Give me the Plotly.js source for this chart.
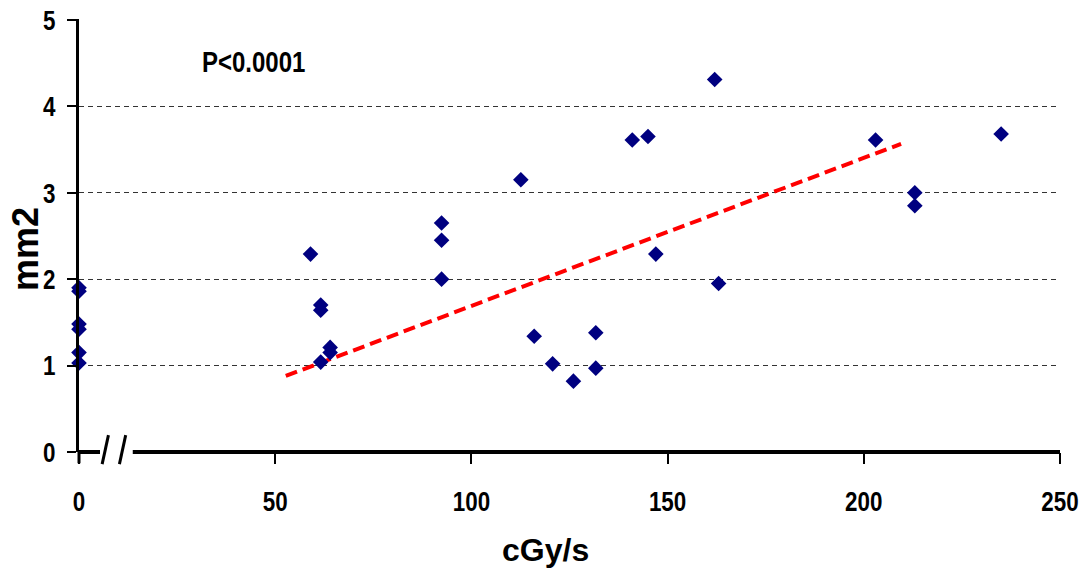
<!DOCTYPE html>
<html>
<head>
<meta charset="utf-8">
<script src="https://cdn.plot.ly/plotly-3.0.1.min.js"></script>
<style>html,body{margin:0;padding:0;background:#fff;}#chart{width:1088px;height:574px;}</style>
</head>
<body>
<div id="chart"></div>
<script>
// Data
var doseRate = [0, 0, 0, 0, 0, 0,
  59, 61.6, 61.6, 61.6, 64, 64,
  92.4, 92.4, 92.4, 112.6, 116, 120.7, 126, 131.7, 131.7,
  141, 145, 147, 162, 163, 203, 213, 213, 235];
var area = [1.9, 1.86, 1.48, 1.42, 1.15, 1.03,
  2.29, 1.70, 1.64, 1.04, 1.21, 1.15,
  2.65, 2.45, 2.0, 3.15, 1.34, 1.02, 0.82, 1.38, 0.97,
  3.61, 3.65, 2.29, 4.31, 1.95, 3.61, 3.0, 2.85, 3.68];
var trendX = [52.7, 209.5];
var trendY = [0.88, 3.565];
var xTicks = [0, 50, 100, 150, 200, 250];
var yTicks = [0, 1, 2, 3, 4, 5];
var annotationText = "P<0.0001";
var xTitle = "cGy/s";
var yTitle = "mm2";

var font = "Liberation Sans, Arial, sans-serif";
var XMAX = 250, YMAX = 5;
// axis break (paper fractions of the x axis)
var breakStart = 5.35 / XMAX, breakEnd = 13.7 / XMAX;

var traces = [
  {
    x: trendX, y: trendY, type: "scatter", mode: "lines",
    line: {color: "#ff0000", width: 4, dash: "12px,6px"},
    hoverinfo: "skip", cliponaxis: false
  },
  {
    x: doseRate, y: area, type: "scatter", mode: "markers",
    marker: {symbol: "diamond", size: 12, color: "#000080"},
    cliponaxis: false
  }
];

var layout = {
  width: 1088, height: 574,
  margin: {l: 79, r: 28, t: 19, b: 122},
  paper_bgcolor: "#fff", plot_bgcolor: "#fff",
  showlegend: false,
  xaxis: {
    range: [0, XMAX], tickvals: xTicks, ticktext: xTicks.map(String),
    showline: false, zeroline: false, showgrid: false,
    ticks: "outside", ticklen: 11, tickwidth: 2, tickcolor: "#000",
    ticklabelstandoff: 13,
    tickfont: {family: font, size: 28, color: "#000", weight: "bold"}
  },
  yaxis: {
    range: [0, YMAX + 0.01], tickvals: yTicks, ticktext: yTicks.map(String),
    showline: true, linewidth: 3, linecolor: "#000",
    zeroline: false, showgrid: true, gridcolor: "#333", gridwidth: 1, griddash: "5px,4px",
    ticks: "outside", ticklen: 9, tickwidth: 2, tickcolor: "#000",
    ticklabelstandoff: 6,
    tickfont: {family: font, size: 28, color: "#000", weight: "bold"}
  },
  shapes: [
    {type: "line", xref: "paper", yref: "paper", x0: 0, x1: breakStart, y0: 0, y1: 0, line: {color: "#000", width: 4}},
    {type: "line", xref: "paper", yref: "paper", x0: breakEnd, x1: 1, y0: 0, y1: 0, line: {color: "#000", width: 4}},
    {type: "line", xref: "paper", yref: "paper", x0: 5.9 / XMAX, x1: 7.5 / XMAX, y0: -0.028, y1: 0.039, line: {color: "#000", width: 3}},
    {type: "line", xref: "paper", yref: "paper", x0: 10.3 / XMAX, x1: 11.9 / XMAX, y0: -0.028, y1: 0.039, line: {color: "#000", width: 3}},
    {type: "line", xref: "paper", yref: "paper", x0: 0, x1: 0, y0: 0, y1: -0.026, line: {color: "#000", width: 3}}
  ],
  annotations: [
    {text: annotationText, xref: "paper", yref: "paper", x: 0.178, y: 0.903,
     showarrow: false, xanchor: "center", yanchor: "middle",
     font: {family: font, size: 30, color: "#000", weight: "bold"}},
    {text: xTitle, xref: "paper", yref: "paper", x: 0.476, y: -0.226,
     showarrow: false, xanchor: "center", yanchor: "middle",
     font: {family: font, size: 32, color: "#000", weight: "bold"}},
    {text: yTitle, xref: "paper", yref: "paper", x: -0.054, y: 0.469, textangle: -90,
     showarrow: false, xanchor: "center", yanchor: "middle",
     font: {family: font, size: 36, color: "#000", weight: "bold"}}
  ]
};

function squeeze(selector, factor) {
  document.querySelectorAll(selector).forEach(function (t) {
    var w = t.getComputedTextLength();
    t.setAttribute("textLength", (w * factor).toFixed(2));
    t.setAttribute("lengthAdjust", "spacingAndGlyphs");
  });
}

Plotly.newPlot("chart", traces, layout, {displayModeBar: false, staticPlot: true}).then(function () {
  squeeze("#chart .xtick text", 0.8);
  squeeze("#chart .ytick text", 0.8);
  squeeze('#chart .annotation[data-index="0"] text', 0.8);
});
</script>
</body>
</html>
